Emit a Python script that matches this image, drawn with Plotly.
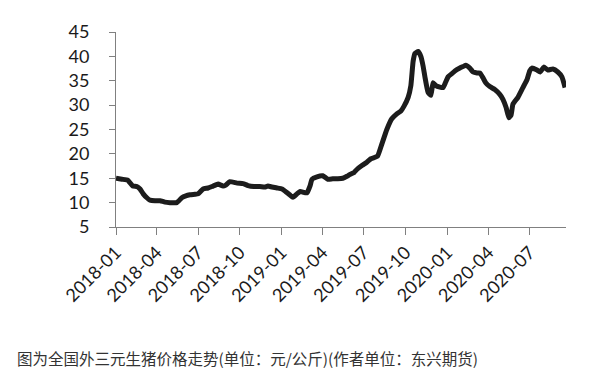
import plotly.graph_objects as go

dates = [
    "2018-01-01", "2018-01-14", "2018-01-27", "2018-02-07", "2018-02-16", "2018-02-23",
    "2018-03-02", "2018-03-10", "2018-03-17", "2018-03-28", "2018-04-08", "2018-04-19",
    "2018-04-30", "2018-05-15", "2018-05-26", "2018-06-04", "2018-06-13", "2018-06-24",
    "2018-07-01", "2018-07-12", "2018-07-23", "2018-08-03", "2018-08-14", "2018-08-25",
    "2018-08-31", "2018-09-09", "2018-09-25", "2018-10-08", "2018-10-19", "2018-11-01",
    "2018-11-14", "2018-11-25", "2018-12-02", "2018-12-11", "2018-12-22", "2019-01-02",
    "2019-01-11", "2019-01-19", "2019-01-26", "2019-02-04", "2019-02-11", "2019-02-19",
    "2019-02-26", "2019-03-05", "2019-03-09", "2019-03-20", "2019-04-02", "2019-04-13",
    "2019-04-24", "2019-05-05", "2019-05-16", "2019-05-25", "2019-06-01", "2019-06-10",
    "2019-06-16", "2019-06-27", "2019-07-08", "2019-07-17", "2019-07-26", "2019-08-01",
    "2019-08-10", "2019-08-21", "2019-09-01", "2019-09-12", "2019-09-21", "2019-09-28",
    "2019-10-07", "2019-10-13", "2019-10-18", "2019-10-22", "2019-10-29", "2019-11-04",
    "2019-11-09", "2019-11-13", "2019-11-20", "2019-11-26", "2019-12-01", "2019-12-07",
    "2019-12-16", "2019-12-23", "2019-12-29", "2020-01-03", "2020-01-12", "2020-01-18",
    "2020-01-29", "2020-02-07", "2020-02-11", "2020-02-20", "2020-02-27", "2020-03-07",
    "2020-03-13", "2020-03-20", "2020-03-26", "2020-04-04", "2020-04-15", "2020-04-26",
    "2020-05-03", "2020-05-10", "2020-05-16", "2020-05-21", "2020-05-25", "2020-06-05",
    "2020-06-16", "2020-06-25", "2020-07-01", "2020-07-06", "2020-07-17", "2020-07-24",
    "2020-08-01", "2020-08-10", "2020-08-21", "2020-09-01", "2020-09-10", "2020-09-17",
]

prices = [
    15.0, 14.8, 14.6, 13.4, 13.3, 12.8,
    11.8, 11.0, 10.5, 10.4, 10.4, 10.1,
    10.0, 10.0, 11.0, 11.4, 11.6, 11.7,
    11.8, 12.8, 13.0, 13.4, 13.8, 13.4,
    13.6, 14.3, 14.0, 13.9, 13.5, 13.3,
    13.3, 13.2, 13.4, 13.2, 13.0, 12.8,
    12.2, 11.6, 11.1, 11.8, 12.3, 12.1,
    12.0, 13.5, 14.8, 15.3, 15.5, 14.8,
    14.9, 14.9, 15.0, 15.4, 15.8, 16.2,
    16.8, 17.6, 18.3, 19.0, 19.3, 19.6,
    22.0, 25.0, 27.2, 28.2, 28.8, 29.8,
    31.6, 34.0, 39.0, 40.6, 41.0, 40.0,
    38.0, 35.8, 32.6, 32.0, 34.6, 34.0,
    33.7, 33.6, 34.8, 35.8, 36.5, 37.0,
    37.6, 38.0, 38.2, 37.6, 36.8, 36.6,
    36.6, 35.6, 34.6, 33.8, 33.2, 32.2,
    31.2, 29.5, 27.4, 28.0, 30.2, 31.6,
    33.6, 35.2, 37.0, 37.6, 37.2, 36.8,
    37.8, 37.2, 37.4, 36.8, 35.8, 33.6,
]

x_tick_vals = [
    "2018-01-01", "2018-04-01", "2018-07-01", "2018-10-01",
    "2019-01-01", "2019-04-01", "2019-07-01", "2019-10-01",
    "2020-01-01", "2020-04-01", "2020-07-01",
]
x_tick_text = [
    "2018-01", "2018-04", "2018-07", "2018-10",
    "2019-01", "2019-04", "2019-07", "2019-10",
    "2020-01", "2020-04", "2020-07",
]
y_tick_vals = [5, 10, 15, 20, 25, 30, 35, 40, 45]

caption = "图为全国外三元生猪价格走势(单位：元/公斤)(作者单位：东兴期货)"

fig = go.Figure()
fig.add_trace(go.Scatter(
    x=dates, y=prices, mode="lines",
    line=dict(color="#1c1c1c", width=5, shape="spline", smoothing=0.4),
    showlegend=False, hoverinfo="x+y",
))

fig.update_layout(
    width=583, height=376,
    margin=dict(l=108, r=25, t=18, b=157),
    paper_bgcolor="white", plot_bgcolor="white",
    font=dict(family="Lato, 'Noto Sans', sans-serif", size=17, color="#1a1a1a"),
    xaxis=dict(
        type="date",
        range=["2018-01-01", "2020-09-19"],
        tickvals=x_tick_vals, ticktext=x_tick_text,
        tickangle=-45,
        ticks="outside", ticklen=7, tickcolor="#808080", tickwidth=1,
        showline=True, linecolor="#808080", linewidth=1,
        showgrid=False, zeroline=False,
        tickfont=dict(size=18),
    ),
    yaxis=dict(
        range=[5, 45],
        tickvals=y_tick_vals,
        ticks="outside", ticklen=6, tickcolor="#808080", tickwidth=1,
        showline=True, linecolor="#808080", linewidth=1,
        showgrid=False, zeroline=False,
        ticklabelstandoff=16,
        tickfont=dict(size=18),
    ),
    annotations=[dict(
        text=caption, xref="paper", yref="paper",
        x=(15 - 116) / 450, y=(227 - 362) / 201,
        xanchor="left", yanchor="middle", showarrow=False,
        font=dict(family="Noto Sans CJK SC", size=15.5, color="#333333"),
    )],
)

fig.write_html("out.html")
